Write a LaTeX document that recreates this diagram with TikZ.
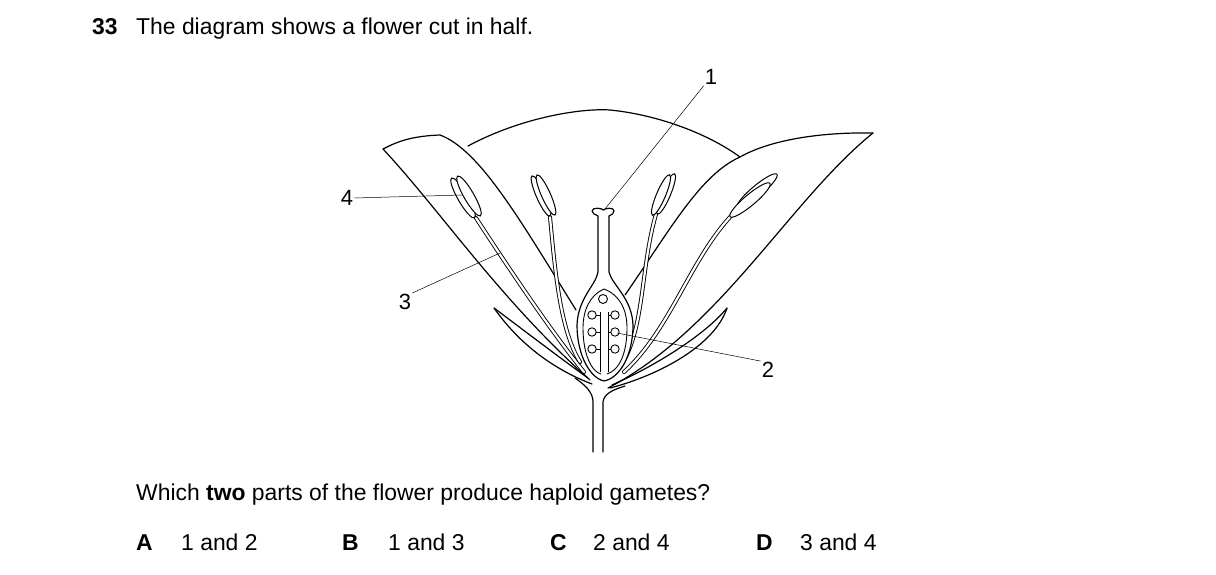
\documentclass[tikz,border=0pt]{standalone}
\usepackage{fontspec}
\setmainfont{Liberation Sans}
\usetikzlibrary{shapes.geometric}
\begin{document}
\begin{tikzpicture}[x=1pt,y=-1pt,
  ol/.style={line width=1.2pt,line join=round,line cap=round},
  fil/.style={double,double distance=2.2pt,line width=0.9pt,line cap=round},
  lead/.style={line width=0.5pt},
  anth/.style={ellipse,draw,line width=1pt,fill=white,inner sep=0pt},
  txt/.style={font=\fontsize{22.9}{27}\selectfont,inner sep=0pt},
  lab/.style={font=\fontsize{22}{26}\selectfont,inner sep=1pt}]
\useasboundingbox (0,0) rectangle (1216,575);
% texts
\node[txt,anchor=base west] (qn) at (92,35) {\textbf{33}};
\node[txt,anchor=base west] (q) at (136,35) {The diagram shows a flower cut in half.};
\node[txt,anchor=base west] (qq) at (136,500) {Which \textbf{two} parts of the flower produce haploid gametes?};
\node[txt,anchor=base west] (oA) at (136,550) {\textbf{A}};
\node[txt,anchor=base west] (tA) at (181,550) {1 and 2};
\node[txt,anchor=base west] (oB) at (342,550) {\textbf{B}};
\node[txt,anchor=base west] (tB) at (388,550) {1 and 3};
\node[txt,anchor=base west] (oC) at (550,550) {\textbf{C}};
\node[txt,anchor=base west] (tC) at (593,550) {2 and 4};
\node[txt,anchor=base west] (oD) at (756,550) {\textbf{D}};
\node[txt,anchor=base west] (tD) at (800,550) {3 and 4};
% back petal
\draw[ol] (468,146) .. controls (520,118) and (580,108) .. (610,110) .. controls (660,115) and (710,135) .. (740,157);
% left petal
\draw[ol] (383,149) .. controls (400,140) and (415,136) .. (440,135) .. controls (480,150) and (520,220) .. (576,310);
\draw[ol] (383,149) .. controls (440,210) and (500,300) .. (590,380);
% right petal
\draw[ol] (873,133) .. controls (820,132) and (770,140) .. (740,157) .. controls (700,175) and (670,230) .. (625,295);
\draw[ol] (873,133) .. controls (790,200) and (720,330) .. (608,388);
% stem
\draw[ol] (593,452) -- (593,402) .. controls (593,392) and (585,385) .. (575,378);
\draw[ol] (603,452) -- (603,402) .. controls (604,394) and (612,390) .. (625,386);
% left sepal
\draw[ol] (494,308) .. controls (520,345) and (555,370) .. (592,384);
\draw[ol] (494,308) .. controls (530,335) and (560,358) .. (588,378);
% right sepal
\draw[ol] (727,308) .. controls (715,345) and (660,375) .. (610,388);
\draw[ol] (727,308) .. controls (705,335) and (655,366) .. (612,385);
% stamens filaments
\draw[fil] (476,218) .. controls (510,270) and (550,330) .. (584,372);
\draw[fil] (550,217) .. controls (555,270) and (560,330) .. (580,362);
\draw[fil] (656,214) .. controls (640,270) and (645,330) .. (620,367);
\draw[fil] (731,216) .. controls (690,260) and (670,330) .. (624,372);
% anthers
\node[anth,minimum width=46pt,minimum height=10pt,rotate=-60] (a1a) at (463,198) {};
\node[anth,minimum width=46pt,minimum height=10pt,rotate=-60] (a1b) at (469,196) {};
\node[anth,minimum width=44pt,minimum height=9pt,rotate=-66] (a2a) at (541,196) {};
\node[anth,minimum width=44pt,minimum height=9pt,rotate=-66] (a2b) at (546,195) {};
\node[anth,minimum width=44pt,minimum height=9pt,rotate=67] (a3a) at (666,194) {};
\node[anth,minimum width=44pt,minimum height=9pt,rotate=67] (a3b) at (661,195) {};
\node[anth,minimum width=52pt,minimum height=11pt,rotate=40] (a4a) at (757,191) {};
\node[anth,minimum width=52pt,minimum height=11pt,rotate=40] (a4b) at (750,200) {};
% pistil
\draw[ol,fill=white] (598,216) -- (598,272) .. controls (596,285) and (578,298) .. (577,325)
  .. controls (577,355) and (590,378) .. (604,381) .. controls (620,378) and (633,355) .. (633,325)
  .. controls (632,298) and (612,285) .. (609,272) -- (609,216)
  .. controls (612,214) and (614,214) .. (614,211) .. controls (614,207) and (605,208) .. (603.5,210)
  .. controls (602,208) and (592,207) .. (592,211) .. controls (592,214) and (595,214) .. (598,216) -- cycle;
\draw[line width=0.9pt] (604,289) .. controls (590,295) and (583,310) .. (583,328) .. controls (583,355) and (592,372) .. (601,374);
\draw[line width=0.9pt] (607,374) .. controls (620,370) and (627,352) .. (627,328) .. controls (627,310) and (620,295) .. (604,289);
% ovules
\draw[line width=0.9pt] (600,372) -- (600,312);
\draw[line width=0.9pt] (608,372) -- (608,312);
\draw[line width=0.9pt] (603,299) circle (4.5);
\foreach \yy in {315,332,349} {
  \draw[line width=0.9pt] (596,\yy) -- (600,\yy);
  \draw[line width=0.9pt] (608,\yy) -- (612,\yy);
  \draw[line width=0.9pt,fill=white] (592,\yy) circle (4.2);
  \draw[line width=0.9pt,fill=white] (615,\yy) circle (4.2);
}
% label leaders
\node[lab] (l1) at (711,77) {1};
\node[lab] (l2) at (768,370) {2};
\node[lab] (l3) at (405,302) {3};
\node[lab] (l4) at (347,198) {4};
\coordinate (p1) at (605,209);
\coordinate (p2) at (617,333);
\coordinate (p3) at (500,253);
\coordinate (p4) at (462,195);
\draw[lead] (l1.south west) -- (p1);
\draw[lead] (l2.north west) -- (p2);
\draw[lead] (l3.north east) -- (p3);
\draw[lead] (l4.east) -- (p4);
\end{tikzpicture}
\end{document}
